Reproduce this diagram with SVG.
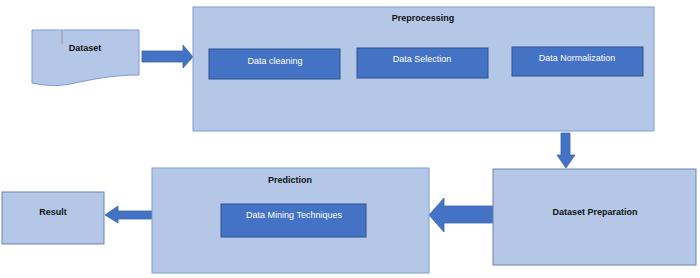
<svg xmlns="http://www.w3.org/2000/svg" width="700" height="278" viewBox="0 0 700 278">
<style>
.light{fill:#B4C7E7;stroke:#7C9CD4;stroke-width:1}
.dark{fill:#4472C4;stroke:#2F528F;stroke-width:1}
.arrow{fill:#4472C4;stroke:#3A64AE;stroke-width:0.8}
.t{font-family:"Liberation Sans",Arial,sans-serif;font-size:9px;text-anchor:middle;dominant-baseline:middle}
.b{font-weight:bold;fill:#111}
.w{fill:#fff}
</style>
<rect width="700" height="278" fill="#fff"/>
<g id="connectors">
<polygon class="arrow" points="142,51 183,51 183,45 193,57 183,68 183,62 142,62"/>
<polygon class="arrow" points="561,133 570,133 570,155 575,155 566,168 557,155 561,155"/>
<polygon class="arrow" points="493,206 444,206 444,198 429,215 444,232 444,223 493,223"/>
<polygon class="arrow" points="152,211 118,211 118,206 105,215 118,223 118,219 152,219"/>
</g>
<g id="dataset">
<path class="light" d="M32,30 H139 V75 C110,75 90,80 70,84 C55,87 42,85 32,83 Z"/>
<line x1="62" y1="31" x2="62" y2="44" stroke="#888" stroke-width="0.8"/>
<text class="t b" x="85" y="49">Dataset</text>
</g>
<g id="preprocessing">
<rect class="light" x="193" y="7" width="461" height="124"/>
<text class="t b" x="423" y="19">Preprocessing</text>
</g>
<g id="data-cleaning">
<rect class="dark" x="209" y="49" width="131" height="30"/>
<text class="t w" x="275" y="62">Data cleaning</text>
</g>
<g id="data-selection">
<rect class="dark" x="357" y="48" width="131" height="30"/>
<text class="t w" x="422" y="60">Data Selection</text>
</g>
<g id="data-normalization">
<rect class="dark" x="512" y="47" width="131" height="29"/>
<text class="t w" x="577" y="59">Data Normalization</text>
</g>
<g id="dataset-preparation">
<rect class="light" x="493" y="169" width="203" height="96" style="stroke:#6F84B0"/>
<text class="t b" x="595" y="213">Dataset Preparation</text>
</g>
<g id="prediction">
<rect class="light" x="152" y="168" width="277" height="105"/>
<text class="t b" x="290" y="181">Prediction</text>
</g>
<g id="data-mining">
<rect class="dark" x="221" y="204" width="145" height="33"/>
<text class="t w" x="294" y="216">Data Mining Techniques</text>
</g>
<g id="result">
<rect class="light" x="2" y="192" width="102" height="52" style="stroke:#6F84B0"/>
<text class="t b" x="53" y="213">Result</text>
</g>
</svg>
